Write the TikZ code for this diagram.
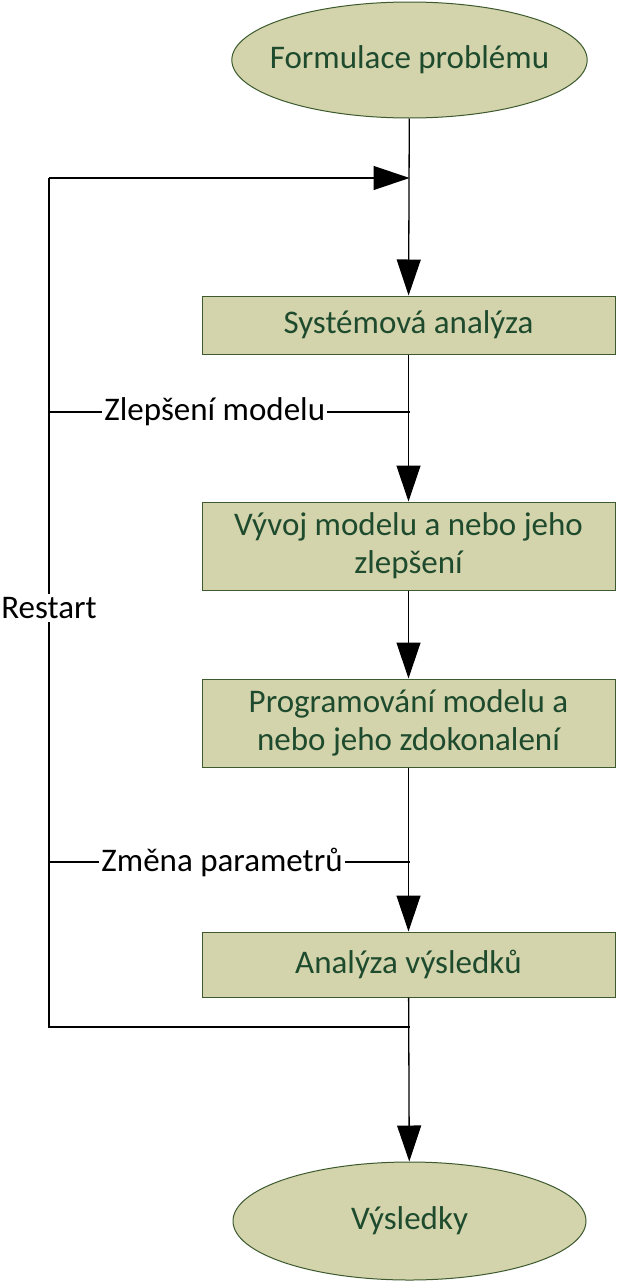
\documentclass[tikz,border=0pt]{standalone}
\usepackage{fontspec}
\setmainfont{Carlito}
\usetikzlibrary{shapes.geometric,arrows.meta}
\definecolor{boxfill}{RGB}{211,211,172}
\definecolor{boxtext}{RGB}{30,75,45}
\definecolor{boxline}{RGB}{60,90,45}
\begin{document}
\begin{tikzpicture}[x=1pt,y=1pt,
  font=\fontsize{33}{38}\selectfont,
  proc/.style={rectangle, draw=boxline, fill=boxfill, text=boxtext, minimum width=413pt, inner sep=0pt, align=center, line width=1pt},
  term/.style={ellipse, draw=boxline, fill=boxfill, text=boxtext, minimum width=353pt, inner ysep=0pt, line width=1pt},
  flow/.style={line width=1.3pt, -{Triangle[length=36pt,width=24pt]}},
  wire/.style={line width=1.3pt},
  lbl/.style={fill=white, inner sep=2pt, text=black}]
\useasboundingbox (0,0) rectangle (617,-1282);
\node[term, minimum height=116pt, inner xsep=-14pt] (start) at (409.5,-60) {Formulace problému};
\node[proc, minimum height=58pt] (b1) at (408.5,-325) {Systémová analýza};
\node[proc, minimum height=88pt] (b2) at (408.5,-546) {Vývoj modelu a nebo jeho\\zlepšení};
\node[proc, minimum height=88pt] (b3) at (408.5,-723) {Programování modelu a\\nebo jeho zdokonalení};
\node[proc, minimum height=65pt] (b4) at (408.5,-964.5) {Analýza výsledků};
\node[term, minimum height=118pt, inner xsep=0pt] (end) at (409.5,-1221) {Výsledky};

\coordinate (j1) at (409.5,-178);
\coordinate (j2) at (409.5,-412);
\coordinate (j3) at (409.5,-862);
\coordinate (j4) at (409.5,-1027);
\coordinate (c1) at (49,-178);
\coordinate (c2) at (49,-412);
\coordinate (c3) at (49,-862);
\coordinate (c4) at (49,-1027);

\draw[flow] (start) -- (b1);
\draw[flow] (b1) -- (b2);
\draw[flow] (b2) -- (b3);
\draw[flow] (b3) -- (b4);
\draw[flow] (b4) -- (end);

\draw[wire] (j4) -- (c4) -- (c1);
\draw[flow] (c1) -- (j1);
\draw[wire] (j2) -- node[lbl, pos=0.54] (l1) {Zlepšení modelu} (c2);
\draw[wire] (j3) -- node[lbl, pos=0.52] (l2) {Změna parametrů} (c3);
\node[lbl, inner sep=3pt] (restart) at (49,-608) {Restart};
\end{tikzpicture}
\end{document}
